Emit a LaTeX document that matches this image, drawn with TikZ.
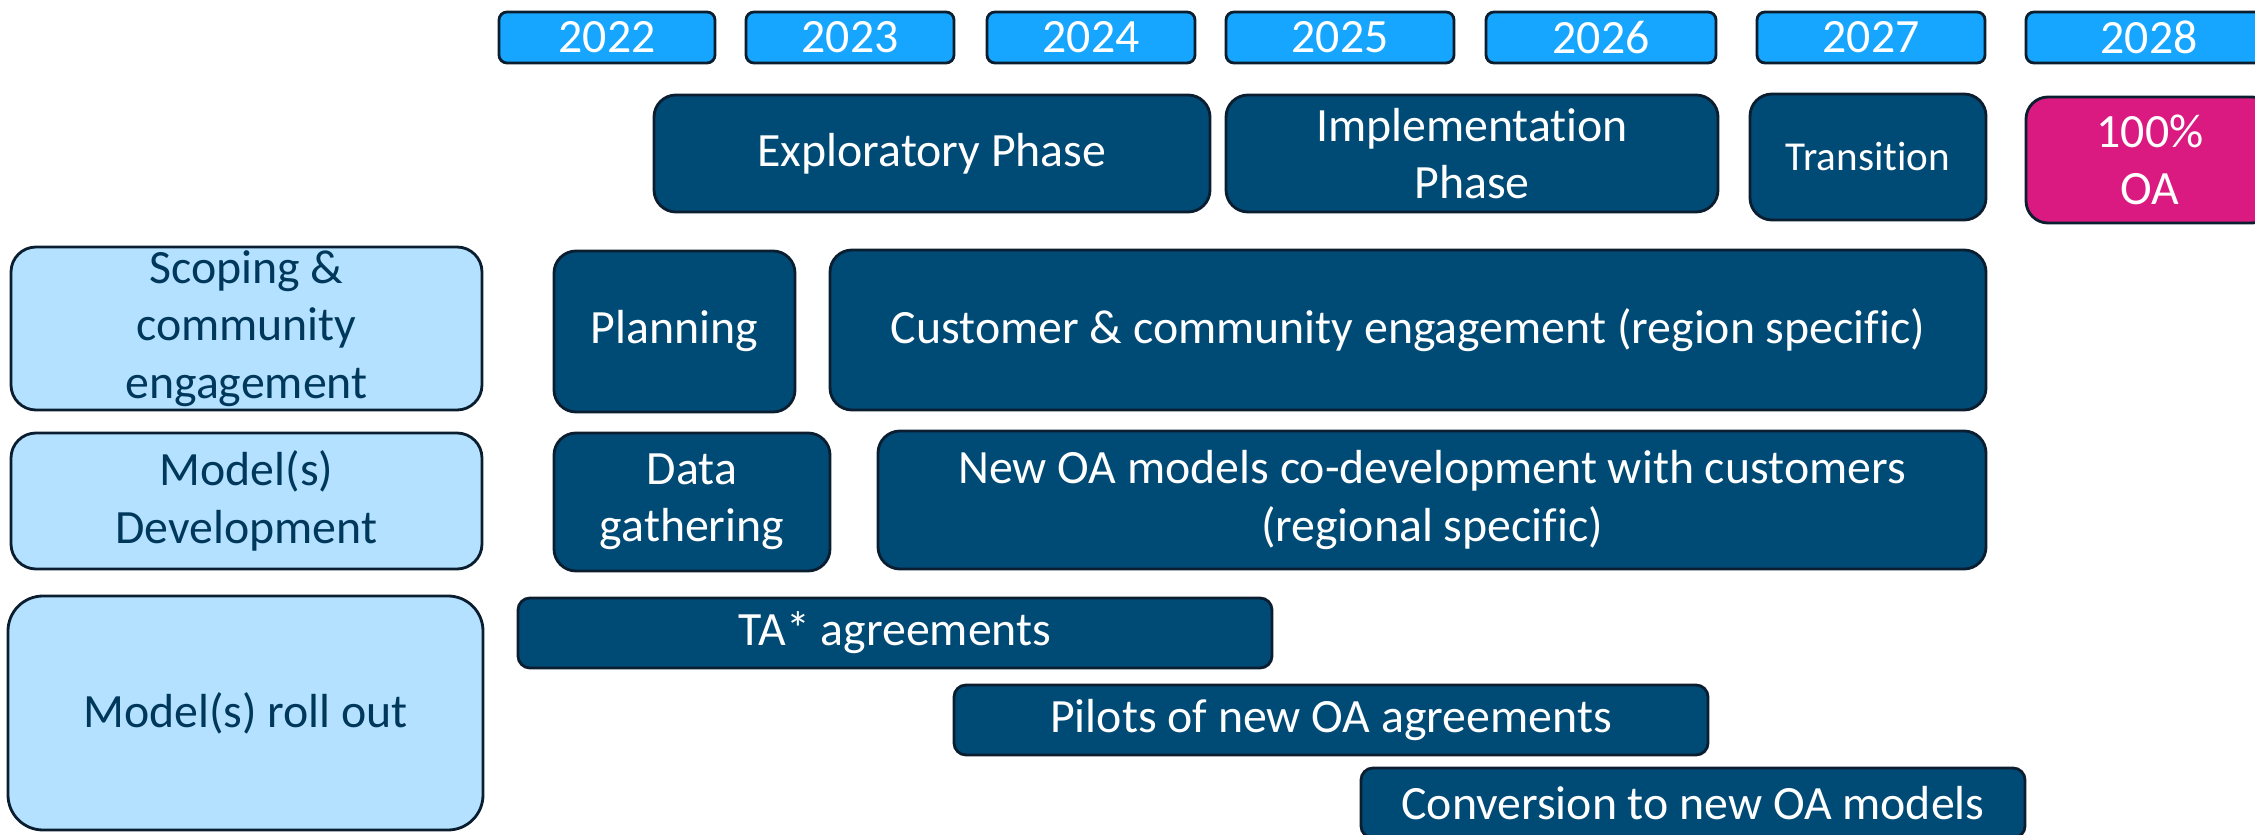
\documentclass[tikz,border=0pt]{standalone}
\usepackage{fontspec}
\setmainfont{Carlito}[Ligatures=NoCommon]
\usetikzlibrary{positioning}

\definecolor{yearblue}{RGB}{22,165,255}
\definecolor{phaseblue}{RGB}{0,74,118}
\definecolor{lightblue}{RGB}{179,225,255}
\definecolor{oapink}{RGB}{218,26,128}
\definecolor{edgeblue}{RGB}{10,30,48}
\definecolor{labelblue}{RGB}{0,56,92}

\tikzset{
  box/.style={draw=edgeblue, line width=0.8pt, align=center, inner sep=0pt,
    font=\fontsize{13.6}{16.3}\selectfont},
  yearbox/.style={box, fill=yearblue, text=white, rounded corners=0.08cm, minimum height=0.51cm},
  phasebox/.style={box, fill=phaseblue, text=white, rounded corners=0.22cm},
  rowlabel/.style={box, fill=lightblue, text=labelblue, rounded corners=0.25cm},
  taskbox/.style={box, fill=phaseblue, text=white, rounded corners=0.12cm, minimum height=0.70cm},
  goalbox/.style={box, fill=oapink, text=white, rounded corners=0.22cm}
}

\begin{document}
\begin{tikzpicture}
    \useasboundingbox (0,0) rectangle (22.55,-8.35);

    % Years
    \node[yearbox, minimum width=2.16cm] (y2022) at (6.07,-0.375) {2022};
    \node[yearbox, minimum width=2.08cm] (y2023) at (8.50,-0.375) {2023};
    \node[yearbox, minimum width=2.08cm] (y2024) at (10.91,-0.375) {2024};
    \node[yearbox, minimum width=2.28cm] (y2025) at (13.40,-0.375) {2025};
    \node[yearbox, minimum width=2.30cm] (y2026) at (16.01,-0.375) {2026};
    \node[yearbox, minimum width=2.28cm] (y2027) at (18.71,-0.375) {2027};
    \node[yearbox, minimum width=2.46cm] (y2028) at (21.49,-0.375) {2028};

    % Phases
    \node[phasebox, minimum width=5.56cm, minimum height=1.17cm] (explore) at (9.32,-1.535) {Exploratory Phase};
    \node[phasebox, minimum width=4.92cm, minimum height=1.17cm] (implement) at (14.72,-1.535) {Implementation\\Phase};
    \node[phasebox, minimum width=2.36cm, minimum height=1.26cm,
      font=\fontsize{11.7}{14}\selectfont] (transition) at (18.68,-1.57) {Transition};
    \node[goalbox, minimum width=2.48cm, minimum height=1.26cm] (fullOA) at (21.50,-1.60) {100\%\\OA};

    % Scoping row
    \node[rowlabel, minimum width=4.71cm, minimum height=1.63cm] (scoping) at (2.465,-3.285) {Scoping \&\\community\\engagement};
    \node[phasebox, minimum width=2.41cm, minimum height=1.61cm] (planning) at (6.745,-3.315) {Planning};
    \node[phasebox, minimum width=11.56cm, minimum height=1.60cm] (engage) at (14.08,-3.30) {Customer \& community engagement (region specific)};

    % Development row
    \node[rowlabel, minimum width=4.71cm, minimum height=1.36cm] (develop) at (2.465,-5.01) {Model(s)\\Development};
    \node[phasebox, minimum width=2.76cm, minimum height=1.38cm] (data) at (6.92,-5.02) {Data\\gathering};
    \node[phasebox, minimum width=11.08cm, minimum height=1.38cm] (codev) at (14.32,-5.00) {New OA models co-development with customers\\(regional specific)};

    % Roll out row
    \node[rowlabel, minimum width=4.75cm, minimum height=2.34cm, rounded corners=0.35cm] (rollout) at (2.455,-7.13) {Model(s) roll out};
    \node[taskbox, minimum width=7.54cm] (ta) at (8.95,-6.33) {TA* agreements};
    \node[taskbox, minimum width=7.54cm] (pilots) at (13.31,-7.20) {Pilots of new OA agreements};
    \node[taskbox, minimum width=6.64cm] (convert) at (16.93,-8.03) {Conversion to new OA models};

\end{tikzpicture}
\end{document}
